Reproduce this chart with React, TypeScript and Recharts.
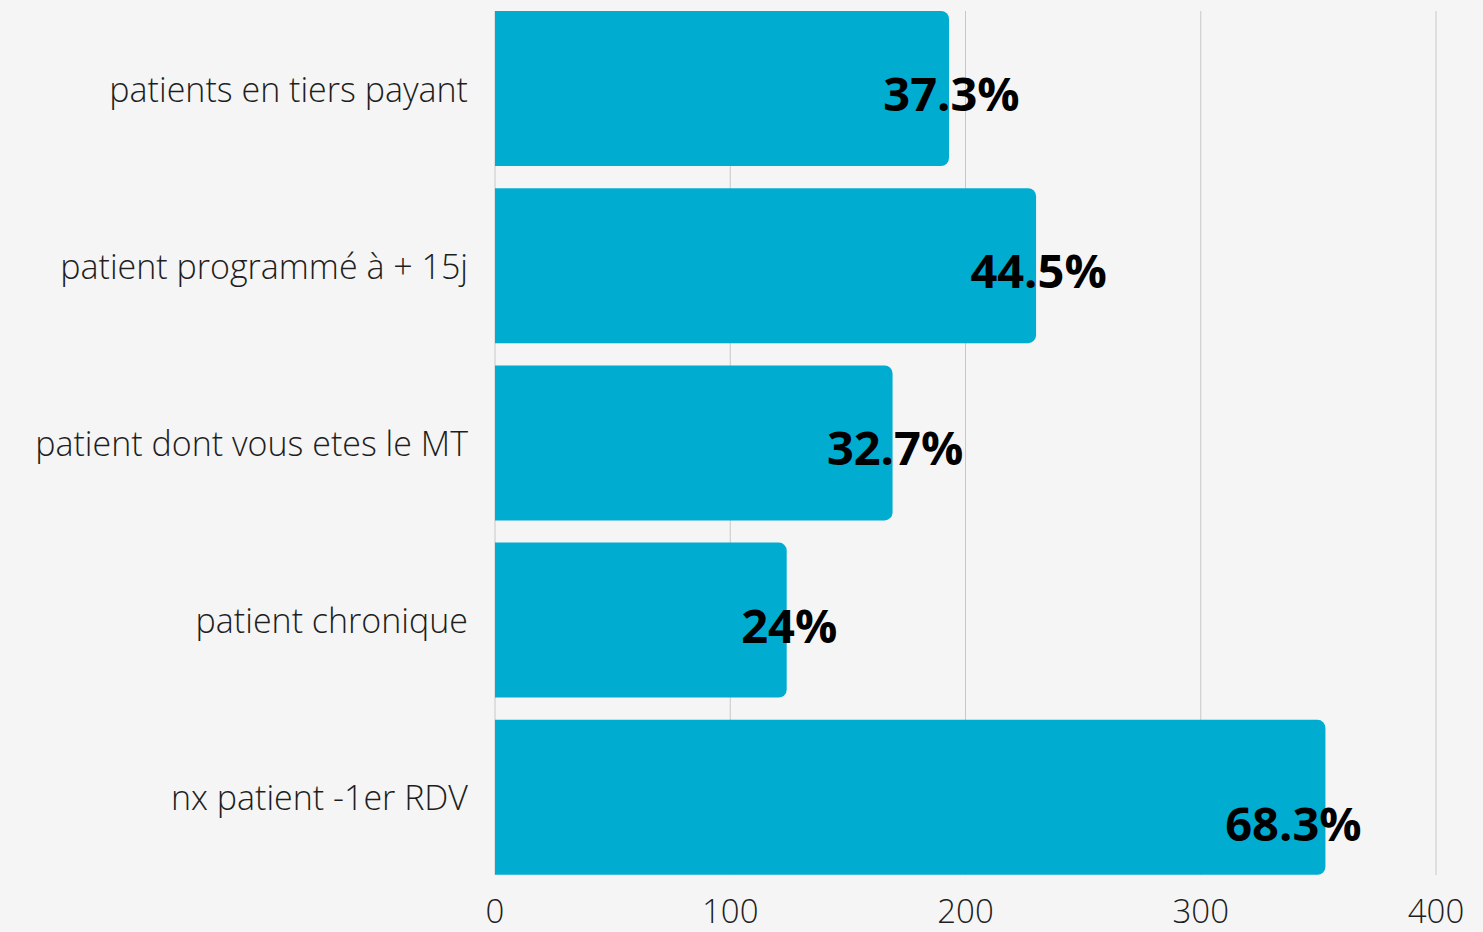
import React from 'react';
import { BarChart, Bar, XAxis, YAxis, CartesianGrid, LabelList } from 'recharts';

const categories = [
  'patients en tiers payant',
  'patient programmé à + 15j',
  'patient dont vous etes le MT',
  'patient chronique',
  'nx patient -1er RDV',
];
const counts = [193, 230, 169, 124, 353];
const percentLabels = ['37.3%', '44.5%', '32.7%', '24%', '68.3%'];
const xTicks = [0, 100, 200, 300, 400];

const data = categories.map((name, i) => ({ name, value: counts[i], pct: percentLabels[i] }));

const FONT = '"Open Sans", "Noto Sans", sans-serif';

const renderLabel = (props: any) => {
  const { x, y, width, height, value, index } = props;
  const isLast = index === categories.length - 1;
  const cx = Number(x) + Number(width) + (isLast ? -32 : 2.5);
  const cy = Number(y) + Number(height) / 2 + (isLast ? 26 : 4.5);
  return (
    <text
      x={cx}
      y={cy}
      textAnchor="middle"
      dominantBaseline="central"
      fontFamily={FONT}
      fontWeight={700}
      fontSize={47}
      fill="#000"
    >
      {value}
    </text>
  );
};

const CategoryTick = (props: any) => {
  const { x, y, payload } = props;
  return (
    <text
      x={x}
      y={y}
      dy={0}
      textAnchor="end"
      dominantBaseline="central"
      fontFamily={FONT}
      fontWeight={300}
      fontSize={34}
      fill="#1e1e1e"
    >
      {payload.value}
    </text>
  );
};

export default function App() {
  return (
    <div style={{ position: 'absolute', left: 0, top: 0, width: 1483, height: 932, background: '#f5f5f5' }}>
      <BarChart
        width={1483}
        height={932}
        data={data}
        layout="vertical"
        margin={{ top: 11, right: 47, bottom: 0, left: 0 }}
        barCategoryGap={11}
      >
        <CartesianGrid horizontal={false} vertical stroke="#c8c8c8" strokeWidth={1} />
        <XAxis
          type="number"
          domain={[0, 400]}
          ticks={xTicks}
          axisLine={false}
          tickLine={false}
          tickSize={0}
          tickMargin={25}
          height={57}
          interval={0}
          tick={{ fontFamily: FONT, fontWeight: 300, fontSize: 33, fill: '#1e1e1e' }}
        />
        <YAxis
          type="category"
          dataKey="name"
          width={495}
          axisLine={false}
          tickLine={false}
          tickSize={0}
          tickMargin={27}
          interval={0}
          padding={{ top: -11, bottom: -11 }}
          tick={<CategoryTick />}
        />
        <Bar dataKey="value" fill="#00acd0" radius={[0, 8, 8, 0]} isAnimationActive={false}>
          <LabelList dataKey="pct" content={renderLabel} />
        </Bar>
      </BarChart>
    </div>
  );
}
